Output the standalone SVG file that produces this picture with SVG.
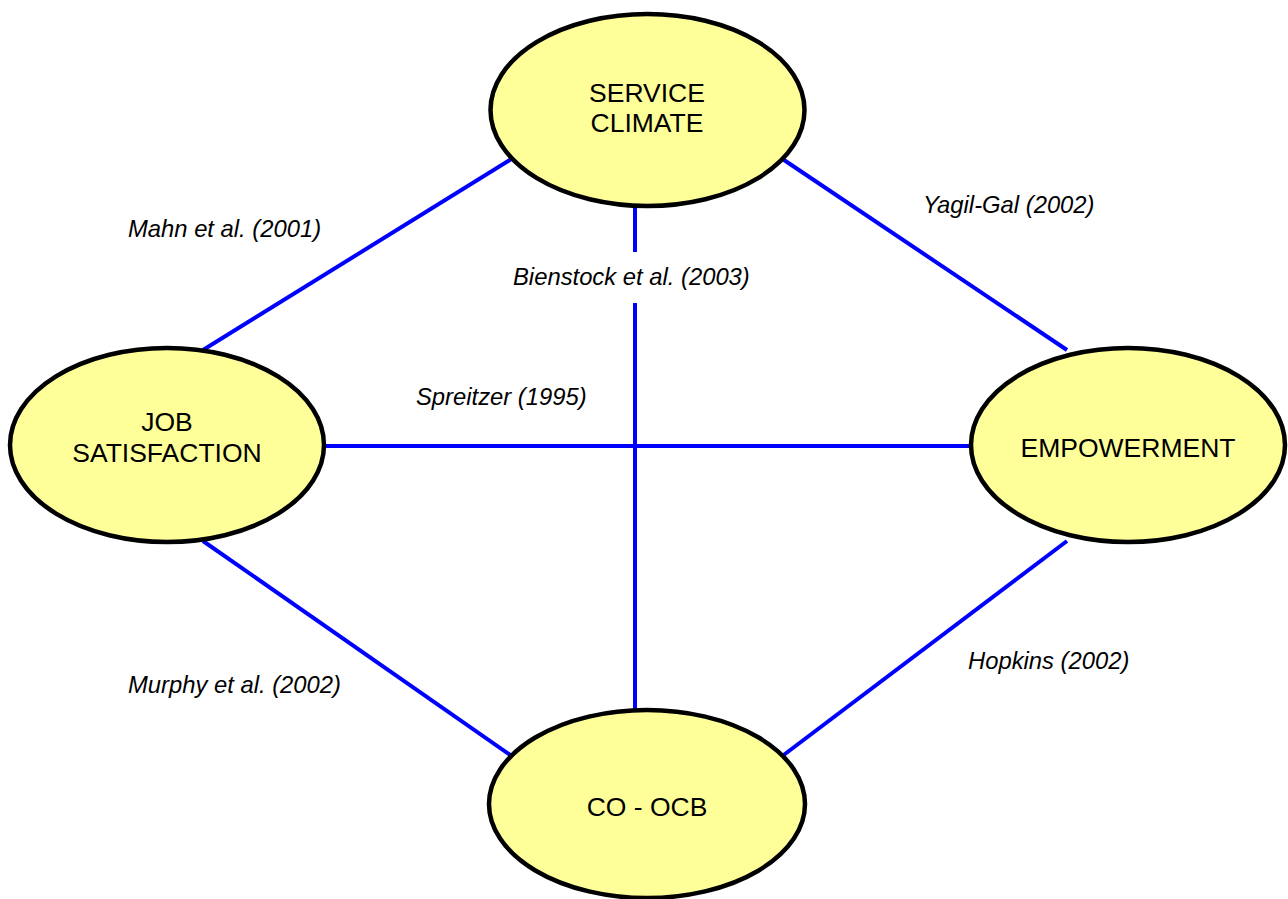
<svg xmlns="http://www.w3.org/2000/svg" width="1288" height="899" viewBox="0 0 1288 899">
<style>
.node{fill:#FFFF99;stroke:#000;stroke-width:4.5}
.nt{font-family:"Liberation Sans",Arial,sans-serif;font-size:26.5px;fill:#000;text-anchor:middle}
.lt{font-family:"Liberation Sans",Arial,sans-serif;font-size:23.8px;font-style:italic;fill:#000}
.edge{stroke:#0000FF;stroke-width:4;fill:none}
</style>
<rect width="1288" height="899" fill="#fff"/>
<g id="connectors">
<line class="edge" x1="513" y1="158" x2="203" y2="350"/>
<line class="edge" x1="781" y1="158" x2="1067" y2="350"/>
<line class="edge" x1="635" y1="206" x2="635" y2="252"/>
<line class="edge" x1="635" y1="303" x2="635" y2="711"/>
<line class="edge" x1="323" y1="446" x2="972" y2="446"/>
<line class="edge" x1="203" y1="541" x2="513" y2="757"/>
<line class="edge" x1="1067" y1="541" x2="781" y2="757"/>
</g>
<g id="edge-labels">
<text class="lt" x="128" y="237">Mahn et al. (2001)</text>
<text class="lt" x="923" y="213">Yagil-Gal (2002)</text>
<text class="lt" x="513" y="285">Bienstock et al. (2003)</text>
<text class="lt" x="416" y="405">Spreitzer (1995)</text>
<text class="lt" x="128" y="693">Murphy et al. (2002)</text>
<text class="lt" x="968" y="669">Hopkins (2002)</text>
</g>
<g id="service-climate">
<ellipse class="node" cx="647.5" cy="110" rx="157" ry="96"/>
<text class="nt" x="647" y="102">SERVICE</text>
<text class="nt" x="647" y="132">CLIMATE</text>
</g>
<g id="job-satisfaction">
<ellipse class="node" cx="167" cy="445" rx="157" ry="97"/>
<text class="nt" x="167" y="431">JOB</text>
<text class="nt" x="167" y="462">SATISFACTION</text>
</g>
<g id="empowerment">
<ellipse class="node" cx="1128" cy="445" rx="157" ry="97"/>
<text class="nt" x="1128" y="457">EMPOWERMENT</text>
</g>
<g id="co-ocb">
<ellipse class="node" cx="647" cy="804" rx="158" ry="94"/>
<text class="nt" x="647" y="816">CO - OCB</text>
</g>
</svg>
